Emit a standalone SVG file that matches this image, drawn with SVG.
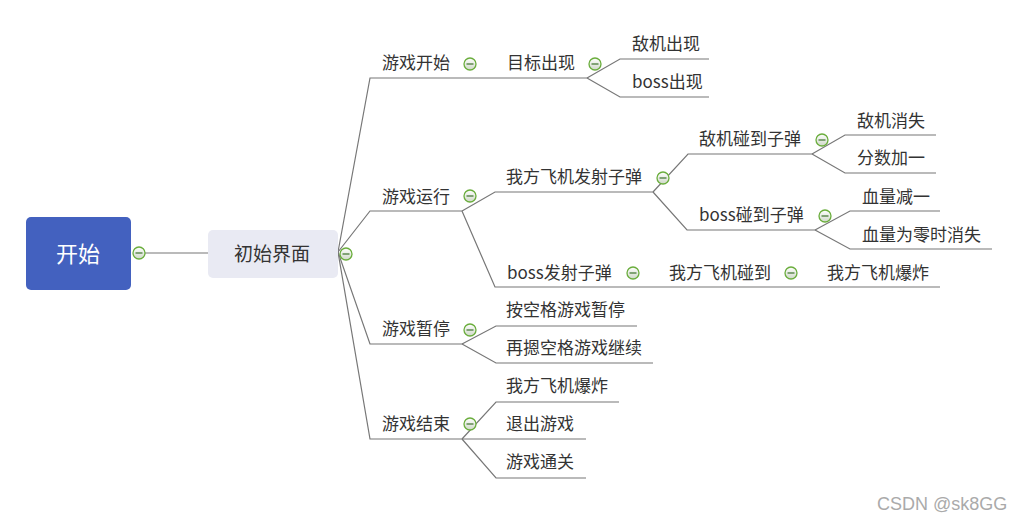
<svg xmlns="http://www.w3.org/2000/svg" xmlns:xlink="http://www.w3.org/1999/xlink" width="1020" height="520" viewBox="0 0 1020 520">
<style>
.t{font-family:"Noto Sans CJK SC","Microsoft YaHei",sans-serif;font-size:17px;fill:#333333}
.c{fill:none;stroke:#777777;stroke-width:1.2}
</style>
<defs>
<linearGradient id="tg" x1="0" y1="0" x2="0" y2="1">
<stop offset="0" stop-color="#ffffff"/>
<stop offset="1" stop-color="#cfd8c8"/>
</linearGradient>
<g id="tog">
<circle cx="0" cy="0" r="6" fill="url(#tg)" stroke="#6aad3c" stroke-width="1.3"/>
<line x1="-3.5" y1="0" x2="3.5" y2="0" stroke="#4a7a3a" stroke-width="1.3"/>
</g>
</defs>
<rect width="1020" height="520" fill="#ffffff"/>
<g id="connectors">
<path class="c" d="M145 253 H208"/>
<path class="c" d="M338 252 L370 78 H587"/>
<path class="c" d="M587 78 L620 59 H709"/>
<path class="c" d="M587 78 L620 97 H709"/>
<path class="c" d="M338 252 L370 211 H462"/>
<path class="c" d="M462 211 L495 192 H653"/>
<path class="c" d="M653 192 L688 154 H812"/>
<path class="c" d="M812 154 L845 135 H936"/>
<path class="c" d="M812 154 L845 173 H936"/>
<path class="c" d="M653 192 L687 230 H815"/>
<path class="c" d="M815 230 L850 211 H940"/>
<path class="c" d="M815 230 L850 249 H992"/>
<path class="c" d="M462 211 L495 287 H940"/>
<path class="c" d="M338 252 L370 344 H462"/>
<path class="c" d="M462 344 L496 326 H637"/>
<path class="c" d="M462 344 L496 363 H653"/>
<path class="c" d="M338 252 L370 439 H462"/>
<path class="c" d="M462 439 L496 402 H619"/>
<path class="c" d="M462 439 H586"/>
<path class="c" d="M462 439 L496 478 H586"/>
</g>
<g id="start">
<rect x="26" y="217" width="105" height="73" rx="5" fill="#4361bf"/>
<text x="78" y="262" text-anchor="middle" style="font-family:'Noto Sans CJK SC',sans-serif;font-size:22px;fill:#ffffff">开始</text>
<use xlink:href="#tog" x="139" y="253"/>
</g>
<g id="init">
<rect x="208" y="230" width="130" height="48" rx="5" fill="#e9eaf3"/>
<text x="272" y="261" text-anchor="middle" style="font-family:'Noto Sans CJK SC',sans-serif;font-size:19px;fill:#333333">初始界面</text>
<use xlink:href="#tog" x="346" y="254"/>
</g>
<g id="n-start"><text class="t" x="382" y="69">游戏开始</text><use xlink:href="#tog" x="470" y="64"/></g>
<g id="n-target"><text class="t" x="507" y="69">目标出现</text><use xlink:href="#tog" x="595" y="64"/></g>
<g id="n-enemy"><text class="t" x="632" y="50">敌机出现</text></g>
<g id="n-boss"><text class="t" x="632" y="88">boss出现</text></g>
<g id="n-run"><text class="t" x="382" y="203">游戏运行</text><use xlink:href="#tog" x="470" y="196"/></g>
<g id="n-fire"><text class="t" x="506" y="183">我方飞机发射子弹</text><use xlink:href="#tog" x="663" y="178"/></g>
<g id="n-ehit"><text class="t" x="699" y="145">敌机碰到子弹</text><use xlink:href="#tog" x="822" y="140"/></g>
<g id="n-edie"><text class="t" x="857" y="127">敌机消失</text></g>
<g id="n-score"><text class="t" x="857" y="164">分数加一</text></g>
<g id="n-bhit"><text class="t" x="699" y="221">boss碰到子弹</text><use xlink:href="#tog" x="825" y="216"/></g>
<g id="n-hp"><text class="t" x="862" y="203">血量减一</text></g>
<g id="n-hp0"><text class="t" x="862" y="241">血量为零时消失</text></g>
<g id="n-bfire"><text class="t" x="507" y="279">boss发射子弹</text><use xlink:href="#tog" x="633" y="273"/></g>
<g id="n-mhit"><text class="t" x="669" y="279">我方飞机碰到</text><use xlink:href="#tog" x="791" y="273"/></g>
<g id="n-mboom"><text class="t" x="827" y="279">我方飞机爆炸</text></g>
<g id="n-pause"><text class="t" x="382" y="335">游戏暂停</text><use xlink:href="#tog" x="470" y="330"/></g>
<g id="n-p1"><text class="t" x="506" y="316">按空格游戏暂停</text></g>
<g id="n-p2"><text class="t" x="506" y="354">再摁空格游戏继续</text></g>
<g id="n-end"><text class="t" x="382" y="430">游戏结束</text><use xlink:href="#tog" x="470" y="424"/></g>
<g id="n-e1"><text class="t" x="506" y="392">我方飞机爆炸</text></g>
<g id="n-e2"><text class="t" x="506" y="430">退出游戏</text></g>
<g id="n-e3"><text class="t" x="506" y="468">游戏通关</text></g>
<text x="877" y="510" style="font-family:'Liberation Sans',Arial,sans-serif;font-size:18px;fill:#aaaaaa">CSDN @sk8GG</text>
</svg>
